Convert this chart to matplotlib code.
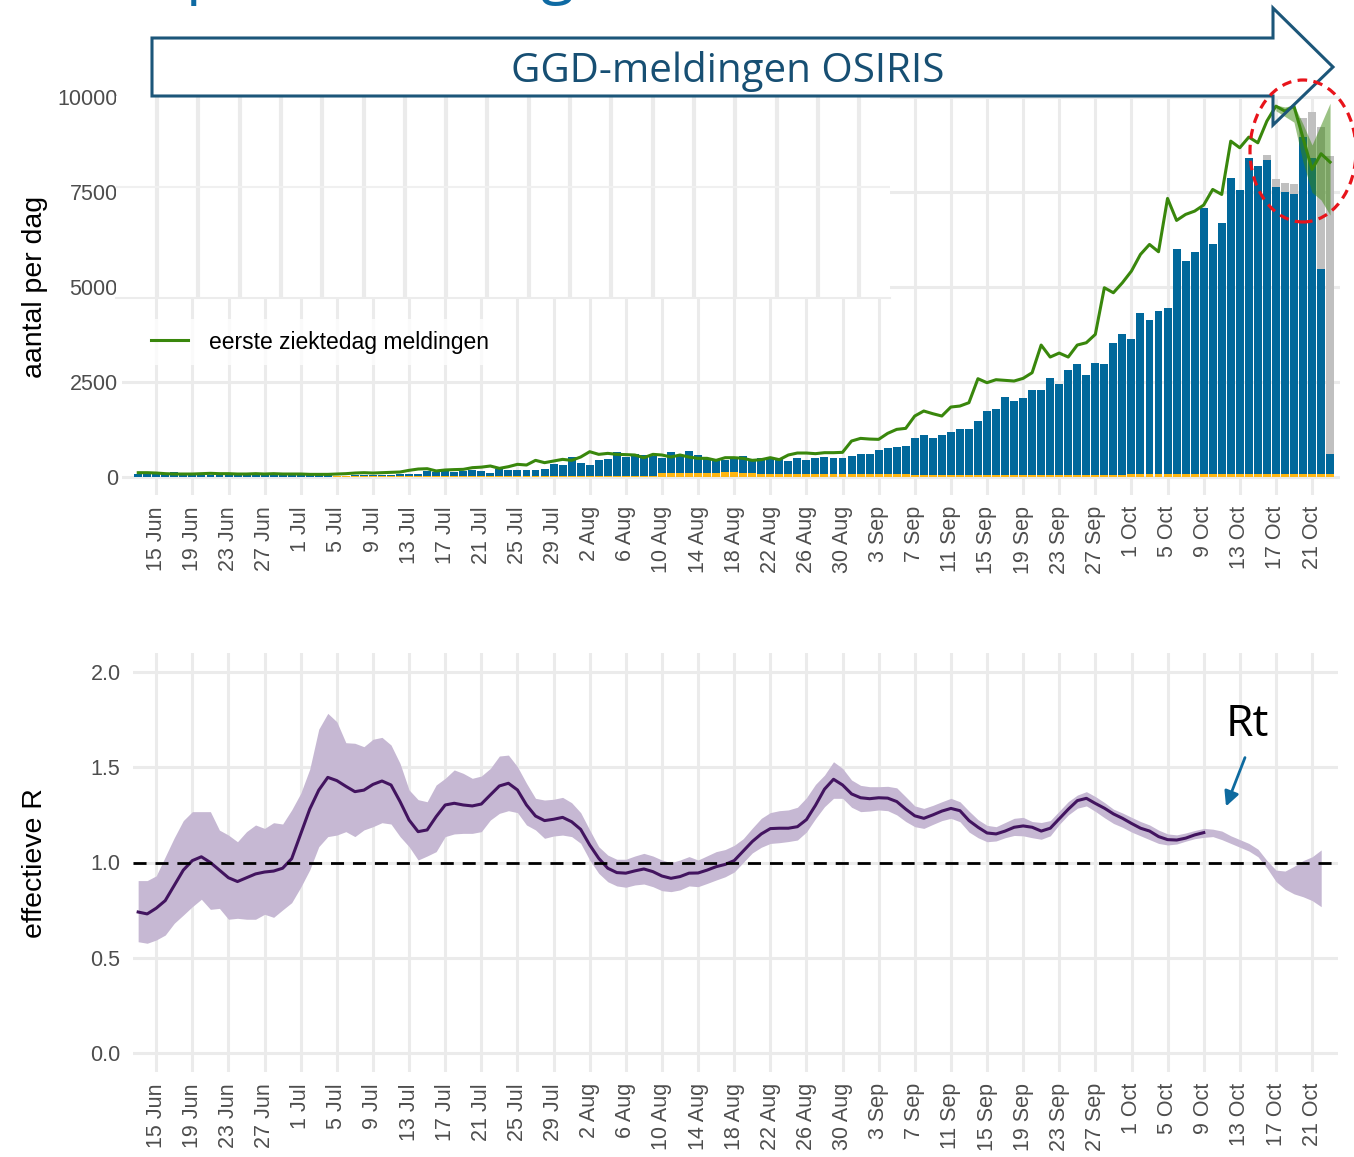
import numpy as np
import pandas as pd
import matplotlib
matplotlib.use("Agg")
import matplotlib.pyplot as plt
from matplotlib.patches import Polygon, Ellipse

# ---- data ----
start_datum = "2020-06-13"
n_dagen = 133

# bar top of the reported cases (blue incl. yellow part at the bottom)
gemeld_totaal = [
    88, 123, 88, 79, 132, 70, 62, 62, 62, 62, 62, 70, 62, 62, 62, 62, 62, 55, 55, 50,
    50, 45, 30, 35, 45, 50, 55, 45, 55, 70, 88,
    88, 149, 132, 149, 132, 149, 176, 158, 114, 202, 176, 185, 185, 185, 220, 342, 325, 536, 360, 325,
    448, 465, 659, 527, 615, 580, 553, 509, 659,
    580, 676, 580, 483, 439, 439, 536, 553, 457, 509, 492, 492, 421, 509, 457, 492, 527, 509, 509, 553,
    615, 615, 711, 773, 790, 825, 1018, 1098, 1018,
    1106, 1194, 1264, 1264, 1475, 1738, 1800, 2107, 1993, 2072, 2292, 2292, 2608, 2441, 2810, 2985,
    2678, 3003, 2968, 3538, 3758, 3626, 4311, 4127, 4364, 4451, 5997, 5689, 5926, 7077, 6128, 6699,
    7884, 7551, 8411, 8183, 8359, 7647, 7516, 7445, 8956, 8394, 5470, 597,
]

# yellow part at the bottom of each bar
geel = (
    [5] * 22 + [30] * 5 + [20] * 18 + [35] * 13
    + [100] * 7 + [140] * 2 + [100] * 2 + [75] * 17 + [45] * 24 + [70] * 23
)

# grey part on top of the last bars (expected, not yet reported)
grijs_extra = [0] * 125 + [114, 193, 228, 281, 509, 1229, 3749, 7858]

# eerste ziektedag meldingen (green line)
ziektedag = [
    114, 114, 105, 88, 79, 79, 79, 88, 97, 88, 88, 79, 79, 88, 79, 88, 79, 79, 79, 70,
    70, 70, 79, 88, 105, 114, 105, 114, 123, 132, 176,
    210, 219, 160, 185, 195, 202, 246, 260, 290, 228, 272, 334, 316, 439, 378, 421, 465, 439, 527, 667,
    597, 623, 597, 590, 580, 509, 597, 580, 527,
    580, 527, 492, 492, 439, 509, 509, 492, 439, 457, 509, 457, 580, 632, 632, 615, 641, 641, 650, 948,
    1018, 1000, 992, 1150, 1255, 1282, 1607, 1739, 1668,
    1607, 1844, 1870, 1958, 2590, 2485, 2564, 2546, 2529, 2599, 2748, 3477, 3161, 3266, 3161, 3477,
    3538, 3758, 4987, 4855, 5119, 5426, 5865, 6128, 5935, 7340, 6761, 6919, 7006, 7165, 7577, 7445,
    8850, 8675, 8956, 8806, 9377, 9772, 9640, 9772, 8938, 8104, 8517, 8297,
]
ziektedag_band_start = 126
ziektedag_laag = [9650, 9500, 9350, 8300, 7500, 7300, 6900]
ziektedag_hoog = [9800, 9750, 9800, 9300, 8750, 9300, 9850]

# effectieve R (line until 9 Oct, band until 22 Oct)
rt = [
    0.74, 0.73, 0.76, 0.80, 0.88, 0.96, 1.01, 1.03, 1.00, 0.96, 0.92, 0.90, 0.92, 0.94, 0.95, 0.955,
    0.97, 1.02, 1.15, 1.28, 1.38, 1.447, 1.43, 1.40, 1.372, 1.38, 1.41, 1.428, 1.407, 1.32, 1.223,
    1.162, 1.171, 1.241, 1.302, 1.311, 1.302, 1.297, 1.307, 1.355, 1.402, 1.416, 1.381, 1.302, 1.244,
    1.22, 1.227, 1.237, 1.214, 1.174, 1.092, 1.022, 0.970, 0.947, 0.944, 0.956, 0.966, 0.952, 0.929,
    0.917, 0.926, 0.944,
    0.945, 0.96, 0.978, 0.99, 1.01, 1.06, 1.11, 1.15, 1.178, 1.18, 1.18, 1.188, 1.225, 1.30, 1.385,
    1.437, 1.407, 1.36, 1.34, 1.335, 1.34, 1.338, 1.32, 1.28, 1.245, 1.232, 1.25, 1.27, 1.284, 1.272,
    1.22, 1.185, 1.155, 1.15, 1.165, 1.185, 1.192, 1.185, 1.165, 1.18, 1.23, 1.28, 1.325, 1.337, 1.31,
    1.285, 1.255, 1.232, 1.205, 1.18, 1.165, 1.136, 1.12, 1.118, 1.128, 1.145, 1.157,
]
rt_hoog = [
    0.905, 0.905, 0.93, 1.03, 1.13, 1.22, 1.267, 1.267, 1.267, 1.17, 1.144, 1.109, 1.162, 1.197, 1.179,
    1.209, 1.202, 1.276, 1.363, 1.49, 1.70, 1.783, 1.739, 1.629, 1.626, 1.608, 1.647, 1.657, 1.617,
    1.52, 1.381, 1.33, 1.319, 1.407, 1.442, 1.486, 1.468, 1.442, 1.454, 1.494, 1.559, 1.564, 1.503,
    1.416, 1.337, 1.328, 1.332, 1.342, 1.314, 1.262, 1.171, 1.083, 1.039, 1.017, 1.017, 1.034, 1.048,
    1.034, 1.013, 0.999, 1.013, 1.031,
    1.013, 1.035, 1.057, 1.068, 1.09, 1.125, 1.18, 1.232, 1.262, 1.272, 1.276, 1.29, 1.34, 1.41, 1.459,
    1.529, 1.494, 1.433, 1.405, 1.398, 1.398, 1.40, 1.392, 1.345, 1.297, 1.284, 1.30, 1.319, 1.337,
    1.319, 1.27, 1.225, 1.195, 1.188, 1.21, 1.232, 1.237, 1.215, 1.21, 1.22, 1.27, 1.32, 1.354, 1.372,
    1.346, 1.315, 1.28, 1.26, 1.237, 1.215, 1.197, 1.17, 1.15, 1.145, 1.155, 1.168, 1.179, 1.175,
    1.165, 1.14, 1.12, 1.10, 1.07, 1.01, 0.96, 0.955, 0.98, 1.01, 1.03, 1.066,
]
rt_laag = [
    0.584, 0.576, 0.593, 0.619, 0.681, 0.724, 0.768, 0.807, 0.754, 0.759, 0.702, 0.707, 0.702, 0.702,
    0.728, 0.712, 0.751, 0.789, 0.87, 0.961, 1.083, 1.136, 1.144, 1.162, 1.136, 1.171, 1.188, 1.209,
    1.202, 1.136, 1.083, 1.013, 1.034, 1.057, 1.136, 1.150, 1.153, 1.153, 1.162, 1.223, 1.258, 1.272,
    1.262, 1.197, 1.171, 1.127, 1.139, 1.144, 1.136, 1.101, 1.013, 0.943, 0.899, 0.877, 0.870, 0.882,
    0.887, 0.873, 0.852, 0.847, 0.856, 0.877,
    0.873, 0.89, 0.908, 0.925, 0.95, 1.00, 1.05, 1.08, 1.10, 1.104, 1.11, 1.118, 1.16, 1.23, 1.293,
    1.337, 1.337, 1.29, 1.267, 1.27, 1.276, 1.272, 1.25, 1.215, 1.188, 1.179, 1.20, 1.22, 1.232,
    1.214, 1.16, 1.13, 1.109, 1.113, 1.13, 1.142, 1.14, 1.13, 1.122, 1.14, 1.20, 1.25, 1.285, 1.297,
    1.268, 1.235, 1.205, 1.185, 1.16, 1.14, 1.12, 1.10, 1.092, 1.097, 1.112, 1.125, 1.132, 1.136,
    1.12, 1.10, 1.08, 1.06, 1.03, 0.97, 0.90, 0.86, 0.835, 0.82, 0.80, 0.768,
]

y_ticks_top = [0, 2500, 5000, 7500, 10000]
y_ticks_bot = [0.0, 0.5, 1.0, 1.5, 2.0]

# ---- colours ----
BLAUW = "#01689b"
GEEL = "#ffb612"
GRIJS = "#c0c0c0"
GROEN = "#39870c"
VIOLET = "#42145f"
LICHTVIOLET = "#c6b8d3"
GRID = "#ebebeb"
TICK = "#4d4d4d"

W, H = 1354, 1157


def fx(px):
    return px / W


def fy(py):
    return 1 - py / H


plt.rcParams["font.family"] = ["Liberation Sans", "DejaVu Sans"]

fig = plt.figure(figsize=(W / 100, H / 100), dpi=100)

datums = pd.date_range(start_datum, periods=n_dagen)
dag = np.arange(n_dagen)
tick_pos = np.arange(2, n_dagen - 1, 4)
tick_labels = [f"{datums[i].day} {datums[i].strftime('%b')}" for i in tick_pos]

gemeld_totaal = np.array(gemeld_totaal, dtype=float)
geel = np.array(geel, dtype=float)
blauw = gemeld_totaal - geel
grijs_extra = np.array(grijs_extra, dtype=float)


def style(ax, yt, ypad):
    ax.set_facecolor("white")
    for s in ax.spines.values():
        s.set_visible(False)
    ax.set_xticks(tick_pos)
    ax.set_xticklabels(tick_labels, rotation=90, va="top", ha="center")
    ax.set_yticks(yt)
    ax.tick_params(axis="x", length=0, pad=8, labelsize=15.5, labelcolor=TICK)
    ax.tick_params(axis="y", length=0, pad=ypad, labelsize=15.5, labelcolor=TICK)
    ax.grid(True, color=GRID, linewidth=2.2)
    ax.set_axisbelow(True)


# ---- top panel: bars ----
ax1 = fig.add_axes([fx(122), fy(495), fx(1340) - fx(122), fy(96) - fy(495)])
style(ax1, y_ticks_top, 3)
ax1.set_yticklabels([str(v) for v in y_ticks_top])
ax1.bar(dag, geel, width=0.88, color=GEEL, linewidth=0)
ax1.bar(dag, blauw, bottom=geel, width=0.88, color=BLAUW, linewidth=0)
ax1.bar(dag, grijs_extra, bottom=gemeld_totaal, width=0.88, color=GRIJS, linewidth=0)
band_x = dag[ziektedag_band_start:]
ax1.fill_between(band_x, ziektedag_laag, ziektedag_hoog, color=GROEN, alpha=0.5, linewidth=0)
lijn, = ax1.plot(dag, ziektedag, color=GROEN, linewidth=2.2, label="eerste ziektedag meldingen")
ax1.set_xlim(-1.8, 133.1)
ax1.set_ylim(-474, 10039)
leg = ax1.legend(handles=[lijn], loc="center left", bbox_to_anchor=(fx(140), fy(342)),
                 bbox_transform=fig.transFigure, frameon=True, fancybox=False,
                 fontsize=16.5, handlelength=1.6, handletextpad=0.9, borderpad=0.5,
                 borderaxespad=0)
leg.get_frame().set_facecolor("white")
leg.get_frame().set_edgecolor("none")

# white inset left behind on the slide (with its own faint grid)
ov = fig.add_axes([fx(116), fy(298), fx(890) - fx(116), fy(96) - fy(298)])
ov.set_zorder(0.5)
ov.set_xlim(116, 890)
ov.set_ylim(298, 96)
ov.set_xticks(np.arange(157, 880, 41.3))
ov.set_yticks([187])
ov.tick_params(length=0, labelbottom=False, labelleft=False)
ov.grid(True, axis="x", color=GRID, linewidth=3)
ov.grid(True, axis="y", color="#f0f0f0", linewidth=1.5)
for s in ["top", "left", "right"]:
    ov.spines[s].set_visible(False)
ov.spines["bottom"].set_color("#ececec")
ov.spines["bottom"].set_linewidth(1.5)

# ---- bottom panel: effective R ----
ax2 = fig.add_axes([fx(133), fy(1072), fx(1338) - fx(133), fy(653) - fy(1072)])
style(ax2, y_ticks_bot, 9)
ax2.set_yticklabels([f"{v:.1f}" for v in y_ticks_bot])
ax2.fill_between(dag[:len(rt_hoog)], rt_laag, rt_hoog, color=LICHTVIOLET, linewidth=0)
ax2.plot(dag[:len(rt)], rt, color=VIOLET, linewidth=2.2)
ax2.axhline(1.0, color="black", linewidth=2, linestyle=(0, (4.7, 3.2)))
ax2.set_xlim(-0.57, 132.86)
ax2.set_ylim(-0.1, 2.1)

fig.text(fx(35), fy(287), "aantal per dag", rotation=90, ha="center", va="center", fontsize=20.5)
fig.text(fx(35), fy(863), "effectieve R", rotation=90, ha="center", va="center", fontsize=20.5)

# ---- slide annotations ----
banner = [(152, 38), (1273, 38), (1273, 8), (1333, 67), (1273, 125), (1273, 96), (152, 96)]
fig.add_artist(Polygon([(fx(x), fy(y)) for x, y in banner], closed=True, fill=False,
                       edgecolor="#1c5679", linewidth=2.2, transform=fig.transFigure, zorder=5))
fig.text(fx(728), fy(72), "GGD-meldingen OSIRIS", ha="center", va="center",
         fontsize=29, color="#174f73", family=["Open Sans", "DejaVu Sans"], zorder=6)

fig.add_artist(Ellipse((fx(1303), fy(151)), fx(1356) - fx(1250), fy(80) - fy(222),
                       fill=False, edgecolor="#e8141b", linewidth=2.3,
                       linestyle=(0, (3, 2)), transform=fig.transFigure, zorder=6))

# cropped slide title (only descenders visible)
fig.text(fx(186), fy(-8), "p", fontsize=44, color="#0f6aa3", va="baseline", ha="left",
         family=["Open Sans", "DejaVu Sans"])
fig.text(fx(540), fy(-8), "g", fontsize=44, color="#0f6aa3", va="baseline", ha="left",
         family=["Open Sans", "DejaVu Sans"])

fig.text(fx(1247), fy(725), "Rt", ha="center", va="center", fontsize=32,
         family=["Open Sans", "DejaVu Sans"], color="black")
fig.add_artist(plt.Annotation("", xy=(fx(1225), fy(809)), xytext=(fx(1246), fy(755)),
                              xycoords="figure fraction", textcoords="figure fraction",
                              arrowprops=dict(arrowstyle="-|>", color="#0e6a9f", lw=2,
                                              mutation_scale=22)))

fig.savefig("out.png", dpi=100)
